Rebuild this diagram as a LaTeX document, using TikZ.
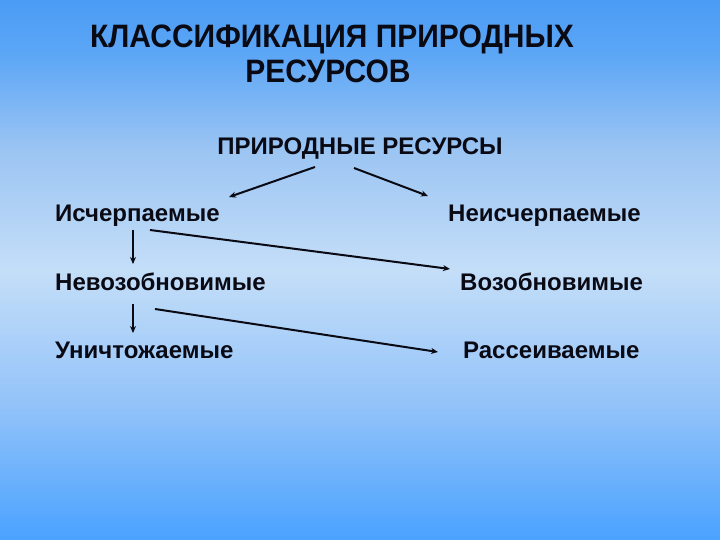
\documentclass[tikz,border=0pt]{standalone}
\usepackage{fontspec}
\setmainfont{Liberation Sans}
\usetikzlibrary{arrows.meta}
\definecolor{bgA}{HTML}{4A9CF5}
\definecolor{bgA2}{HTML}{5CA6F6}
\definecolor{bgB}{HTML}{9CC5F3}
\definecolor{bgC}{HTML}{C4DEF8}
\definecolor{bgD}{HTML}{95C4F9}
\definecolor{bgE}{HTML}{4AA2FF}
\definecolor{ink}{HTML}{0A0A14}
\pgfdeclareverticalshading{bgshade}{100bp}{color(0bp)=(bgE); color(25bp)=(bgE); color(38bp)=(bgD); color(50bp)=(bgC); color(61bp)=(bgB); color(70bp)=(bgA2); color(75bp)=(bgA); color(100bp)=(bgA)}
\tikzset{
  title/.style={font=\bfseries\fontsize{30}{32}\selectfont, text=ink, inner sep=0pt, anchor=base, yscale=1.08},
  item/.style={font=\bfseries\fontsize{24}{26}\selectfont, text=ink, inner sep=0pt, anchor=base west},
  conn/.style={draw=ink, line width=2pt, -{Stealth[length=7pt,width=6pt]}},
}
\begin{document}
\begin{tikzpicture}[x=1pt,y=-1pt]
\useasboundingbox (0,0) rectangle (720,540);
\shade[shading=bgshade] (0,0) rectangle (720,540);
\node[title] (t1) at (332,48) {КЛАССИФИКАЦИЯ ПРИРОДНЫХ};
\node[title] (t2) at (328,83) {РЕСУРСОВ};
\node[item, anchor=base] (root) at (360,155) {ПРИРОДНЫЕ РЕСУРСЫ};
\node[item] (isch) at (55,222) {Исчерпаемые};
\node[item] (neisch) at (448,222) {Неисчерпаемые};
\node[item] (nevoz) at (55,290) {Невозобновимые};
\node[item] (voz) at (460,290) {Возобновимые};
\node[item] (unich) at (55,358) {Уничтожаемые};
\node[item] (rass) at (463,358) {Рассеиваемые};
\coordinate (rl) at (315,167);
\coordinate (rr) at (354,168);
\draw[conn] (rl) -- (229,197) coordinate (isT);
\draw[conn] (rr) -- (428,196) coordinate (neT);
\coordinate (d1a) at (133,230);
\coordinate (d1b) at (133,264);
\coordinate (d2a) at (133,304);
\coordinate (d2b) at (133,333);
\draw[conn] (d1a) -- (d1b);
\draw[conn] (d2a) -- (d2b);
\coordinate (g1a) at (150,230);
\coordinate (g1b) at (450,269);
\coordinate (g2a) at (155,309);
\coordinate (g2b) at (438,352);
\draw[conn] (g1a) -- (g1b);
\draw[conn] (g2a) -- (g2b);
\end{tikzpicture}
\end{document}
